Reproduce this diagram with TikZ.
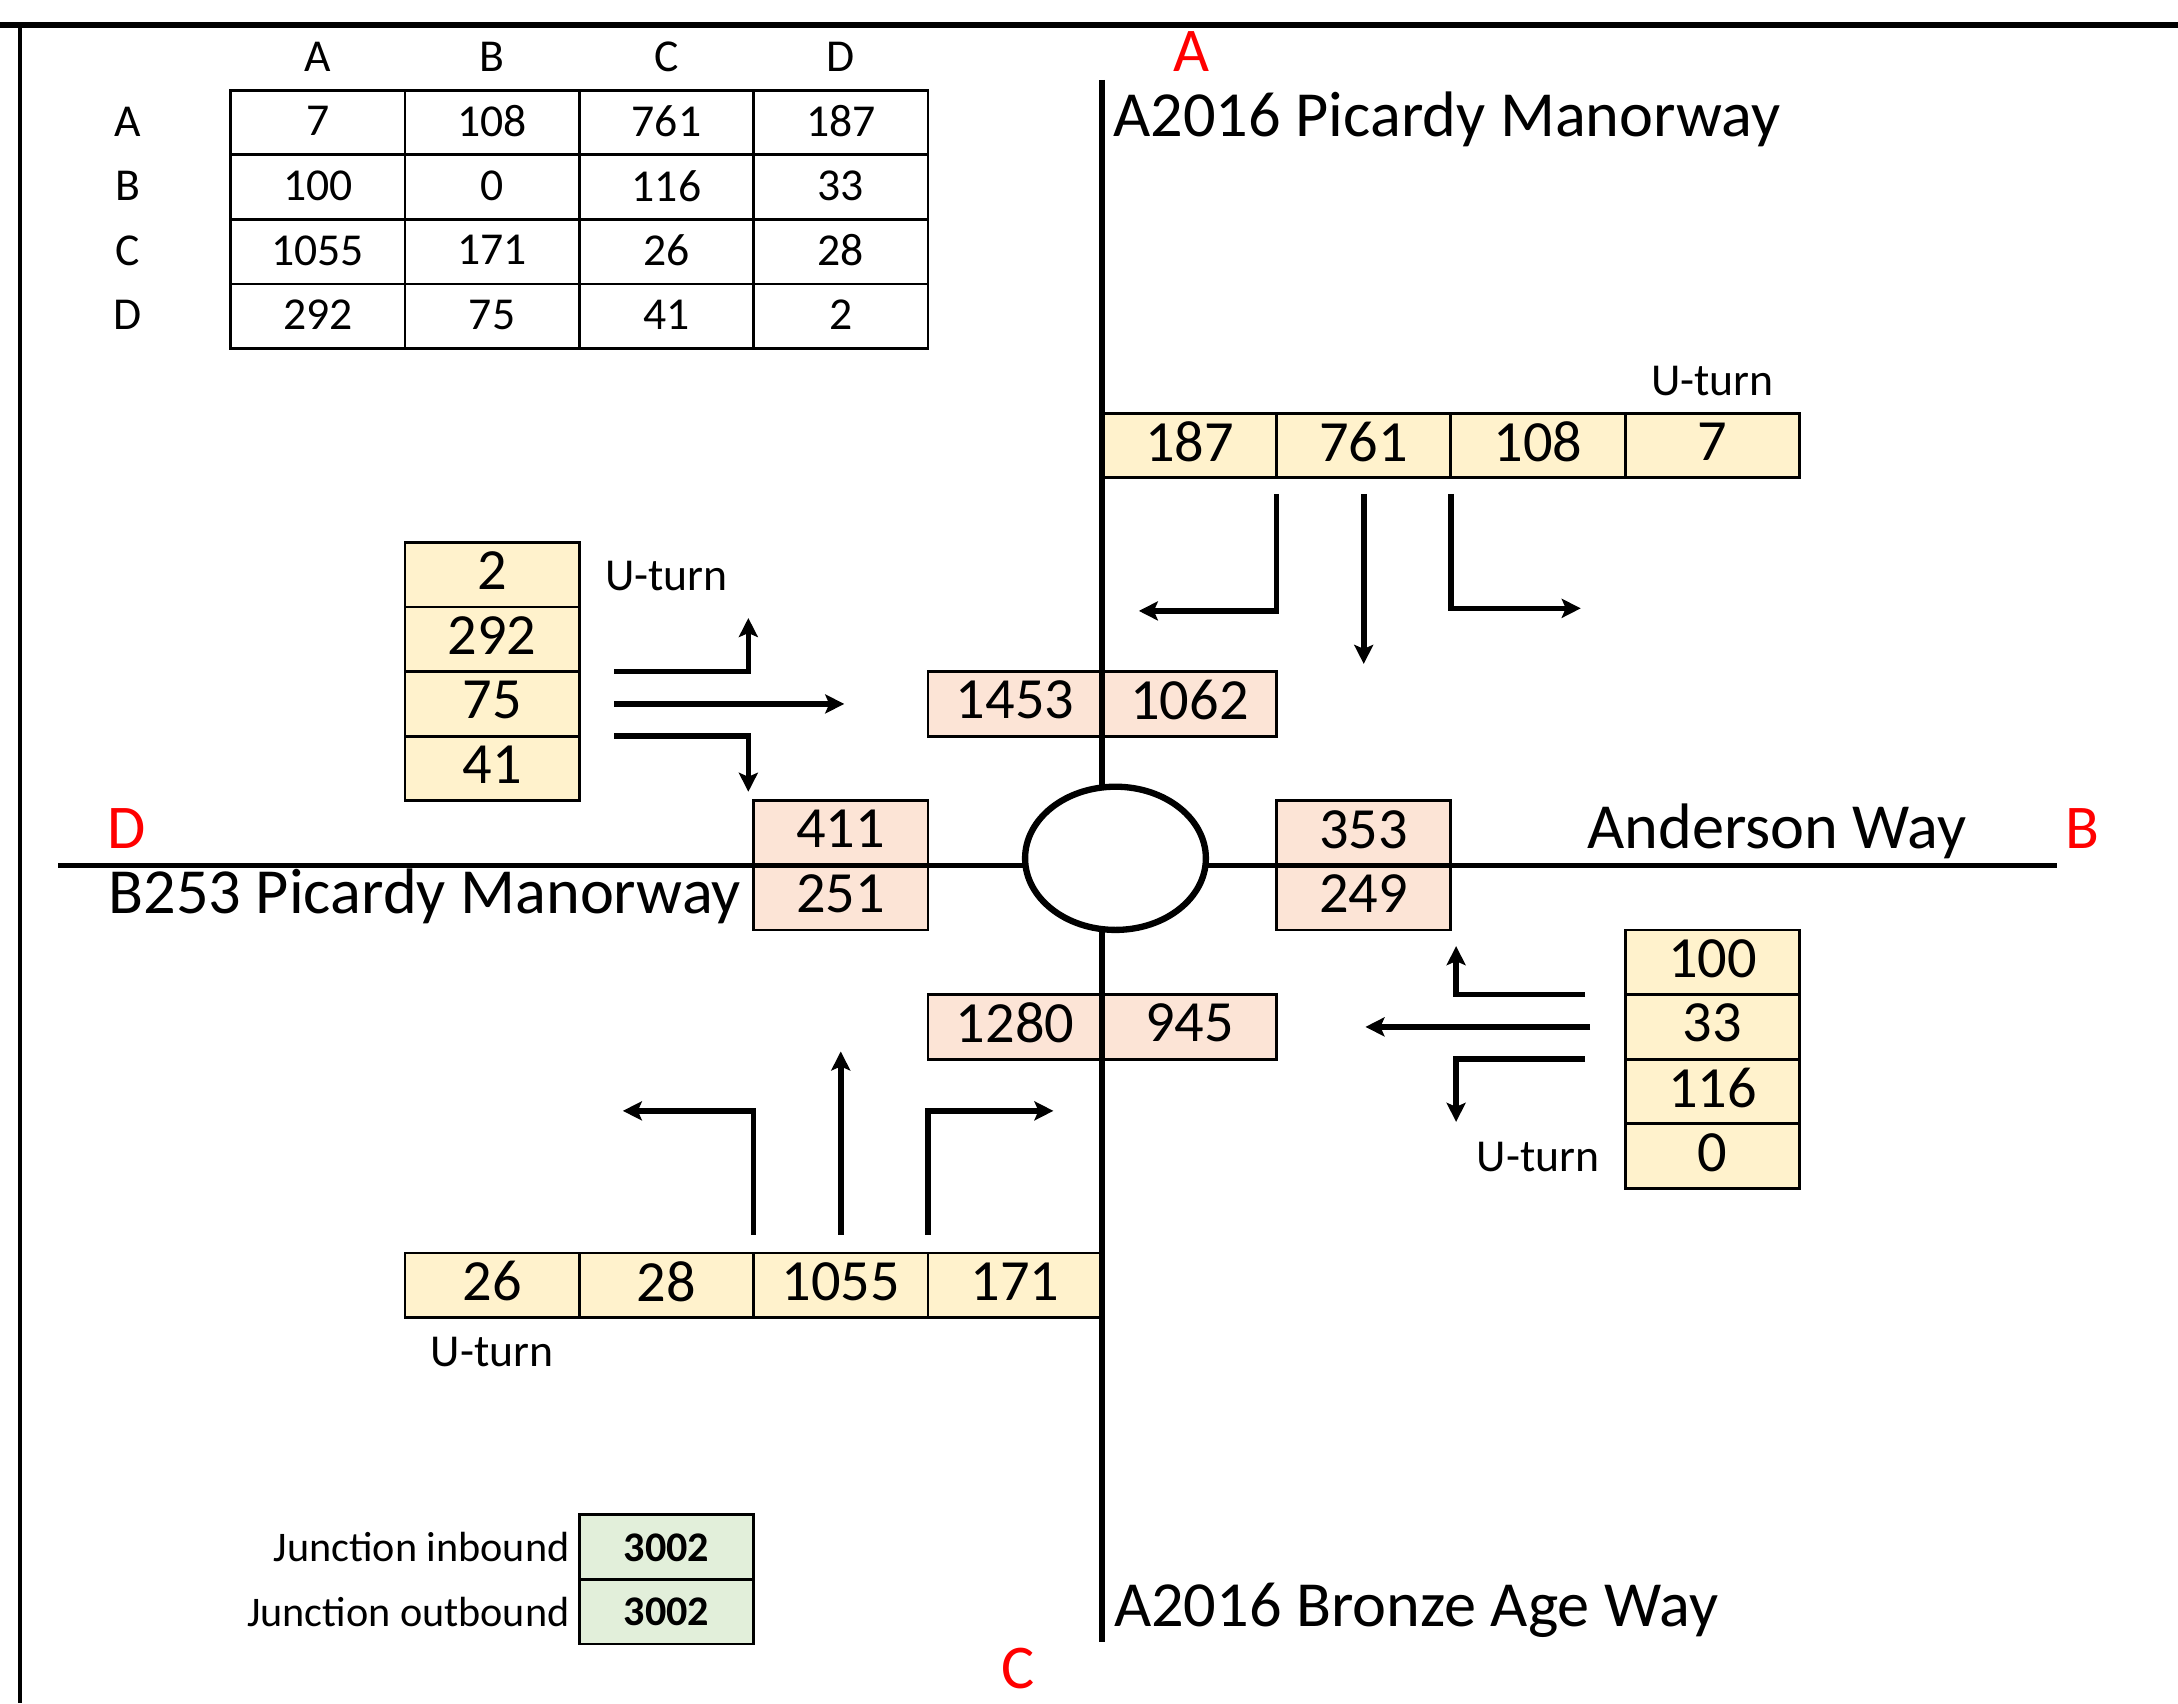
\documentclass[tikz,border=0pt]{standalone}
\usepackage{fontspec}
\setmainfont{Carlito}
\usepackage{tikz}
\usetikzlibrary{shapes.geometric, arrows.meta, positioning, calc}

\definecolor{approach}{HTML}{FFF2CC}
\definecolor{exitflow}{HTML}{FCE4D6}
\definecolor{total}{HTML}{E2EFDA}
\definecolor{armred}{HTML}{FF0000}

\begin{document}
\begin{tikzpicture}[
    x=1.7432cm, y=-0.6459cm,
    cell/.style={rectangle, draw, line width=0.8pt, fill=#1, minimum width=1.7432cm, minimum height=0.6459cm, inner sep=0pt, outer sep=0pt, text centered, text depth=0.08cm, font=\fontsize{16.6}{20}\selectfont},
    cell/.default=white,
    odcell/.style={cell, text depth=0.03cm, font=\fontsize{13}{16}\selectfont},
    sumcell/.style={cell=total, text depth=0cm, font=\fontsize{12}{14}\selectfont\bfseries},
    small/.style={font=\fontsize{13}{16}\selectfont, inner sep=0pt},
    road/.style={line width=1.6pt},
    roadname/.style={font=\fontsize{18.3}{22}\selectfont, inner sep=0pt},
    arm/.style={font=\fontsize{17.7}{21}\selectfont, text=armred, inner sep=0pt},
    flow/.style={-{Stealth[length=1.9mm, width=1.9mm, inset=0.4mm]}, line width=1.6pt}
]
\useasboundingbox (-1.3229,-1.398) rectangle (11.171,24.968);

% Sheet border
\draw[line width=1.5pt] (-1.3229,-1.01) -- (11.171,-1.01);
\draw[line width=1.3pt] (-1.208,-1.01) -- (-1.208,24.968);

% OD matrix
\node[small, anchor=base] (hA) at (0.5,-0.29) {A};
\node[small, anchor=base] (hB) at (1.5,-0.29) {B};
\node[small, anchor=base] (hC) at (2.5,-0.29) {C};
\node[small, anchor=base] (hD) at (3.5,-0.29) {D};
\node[small, anchor=base] (rA) at (-0.59,0.71) {A};
\node[small, anchor=base] (rB) at (-0.59,1.71) {B};
\node[small, anchor=base] (rC) at (-0.59,2.71) {C};
\node[small, anchor=base] (rD) at (-0.59,3.71) {D};

\node[odcell] (mAA) at (0.5,0.5) {7};
\node[odcell] (mAB) at (1.5,0.5) {108};
\node[odcell] (mAC) at (2.5,0.5) {761};
\node[odcell] (mAD) at (3.5,0.5) {187};
\node[odcell] (mBA) at (0.5,1.5) {100};
\node[odcell] (mBB) at (1.5,1.5) {0};
\node[odcell] (mBC) at (2.5,1.5) {116};
\node[odcell] (mBD) at (3.5,1.5) {33};
\node[odcell] (mCA) at (0.5,2.5) {1055};
\node[odcell] (mCB) at (1.5,2.5) {171};
\node[odcell] (mCC) at (2.5,2.5) {26};
\node[odcell] (mCD) at (3.5,2.5) {28};
\node[odcell] (mDA) at (0.5,3.5) {292};
\node[odcell] (mDB) at (1.5,3.5) {75};
\node[odcell] (mDC) at (2.5,3.5) {41};
\node[odcell] (mDD) at (3.5,3.5) {2};

% Approach A (north)
\node[cell=approach] (a187) at (5.5,5.5) {187};
\node[cell=approach] (a761) at (6.5,5.5) {761};
\node[cell=approach] (a108) at (7.5,5.5) {108};
\node[cell=approach] (a7) at (8.5,5.5) {7};

% Approach D (west)
\node[cell=approach] (d2) at (1.5,7.5) {2};
\node[cell=approach] (d292) at (1.5,8.5) {292};
\node[cell=approach] (d75) at (1.5,9.5) {75};
\node[cell=approach] (d41) at (1.5,10.5) {41};

% Approach B (east)
\node[cell=approach] (b100) at (8.5,13.5) {100};
\node[cell=approach] (b33) at (8.5,14.5) {33};
\node[cell=approach] (b116) at (8.5,15.5) {116};
\node[cell=approach] (b0) at (8.5,16.5) {0};

% Approach C (south)
\node[cell=approach] (c26) at (1.5,18.5) {26};
\node[cell=approach] (c28) at (2.5,18.5) {28};
\node[cell=approach] (c1055) at (3.5,18.5) {1055};
\node[cell=approach] (c171) at (4.5,18.5) {171};

% Arm totals
\node[cell=exitflow] (p1453) at (4.5,9.5) {1453};
\node[cell=exitflow] (p1062) at (5.5,9.5) {1062};
\node[cell=exitflow] (p411) at (3.5,11.5) {411};
\node[cell=exitflow] (p251) at (3.5,12.5) {251};
\node[cell=exitflow] (p353) at (6.5,11.5) {353};
\node[cell=exitflow] (p249) at (6.5,12.5) {249};
\node[cell=exitflow] (p1280) at (4.5,14.5) {1280};
\node[cell=exitflow] (p945) at (5.5,14.5) {945};

% Roads and roundabout
\coordinate (roadN) at (5,-0.16);
\coordinate (roadS) at (5,24.02);
\coordinate (roadW) at (-0.988,12);
\coordinate (roadE) at (10.478,12);
\draw[road] (roadN) -- (roadS);
\draw[road] (roadW) -- (roadE);
\node[ellipse, draw, fill=white, line width=1.8pt, minimum width=1.808cm, minimum height=1.432cm, inner sep=0pt] (rbt) at (5.076,11.89) {};

% Turning movements A
\coordinate (aL) at (5.21,8.06);
\coordinate (aS) at (6.5,8.88);
\coordinate (aR) at (7.745,8.02);
\draw[flow] ([yshift=-0.16cm]a187.south east) |- (aL);
\draw[flow] ([yshift=-0.16cm]a761.south) -- (aS);
\draw[flow] ([yshift=-0.16cm]a108.south west) |- (aR);

% Turning movements D
\coordinate (dU) at (2.97,8.17);
\coordinate (dS) at (3.52,9.5);
\coordinate (dR) at (2.97,10.86);
\draw[flow] ([xshift=0.35cm]d75.north east) -| (dU);
\draw[flow] ([xshift=0.35cm]d75.east) -- (dS);
\draw[flow] ([xshift=0.35cm]d41.north east) -| (dR);

% Turning movements B
\coordinate (bU) at (7.03,13.25);
\coordinate (bS) at (6.51,14.5);
\coordinate (bD) at (7.03,15.97);
\draw[flow] ([xshift=-0.4cm]b33.north west) -| (bU);
\draw[flow] ([xshift=-0.35cm]b33.west) -- (bS);
\draw[flow] ([xshift=-0.4cm]b116.north west) -| (bD);

% Turning movements C
\coordinate (cL) at (2.25,15.8);
\coordinate (cS) at (3.5,14.88);
\coordinate (cR) at (4.72,15.8);
\draw[flow] ([yshift=0.18cm]c1055.north west) |- (cL);
\draw[flow] ([yshift=0.18cm]c1055.north) -- (cS);
\draw[flow] ([yshift=0.18cm]c171.north west) |- (cR);

% U-turn labels
\node[small, anchor=base] (uA) at (8.5,4.72) {U-turn};
\node[small, anchor=base] (uD) at (2.5,7.74) {U-turn};
\node[small, anchor=base] (uB) at (7.5,16.74) {U-turn};
\node[small, anchor=base] (uC) at (1.5,19.76) {U-turn};

% Road names and arms
\node[roadname, anchor=base west] (nA) at (5.06,0.718) {A2016 Picardy Manorway};
\node[roadname, anchor=base] (nB) at (8.87,11.74) {Anderson Way};
\node[roadname, anchor=base east] (nD) at (2.93,12.74) {B253 Picardy Manorway};
\node[roadname, anchor=base west] (nC) at (5.064,23.79) {A2016 Bronze Age Way};
\node[arm, anchor=base] (armA) at (5.513,-0.29) {A};
\node[arm, anchor=base] (armB) at (10.62,11.74) {B};
\node[arm, anchor=base] (armC) at (4.515,24.74) {C};
\node[arm, anchor=base] (armD) at (-0.598,11.74) {D};

% Junction totals
\node[sumcell] (jin) at (2.5,22.555) {3002};
\node[sumcell] (jout) at (2.5,23.555) {3002};
\node[left=0.09cm of jin, font=\fontsize{12}{14}\selectfont, inner sep=0pt] (ljin) {Junction inbound};
\node[left=0.09cm of jout, font=\fontsize{12}{14}\selectfont, inner sep=0pt] (ljout) {Junction outbound};

\end{tikzpicture}
\end{document}
